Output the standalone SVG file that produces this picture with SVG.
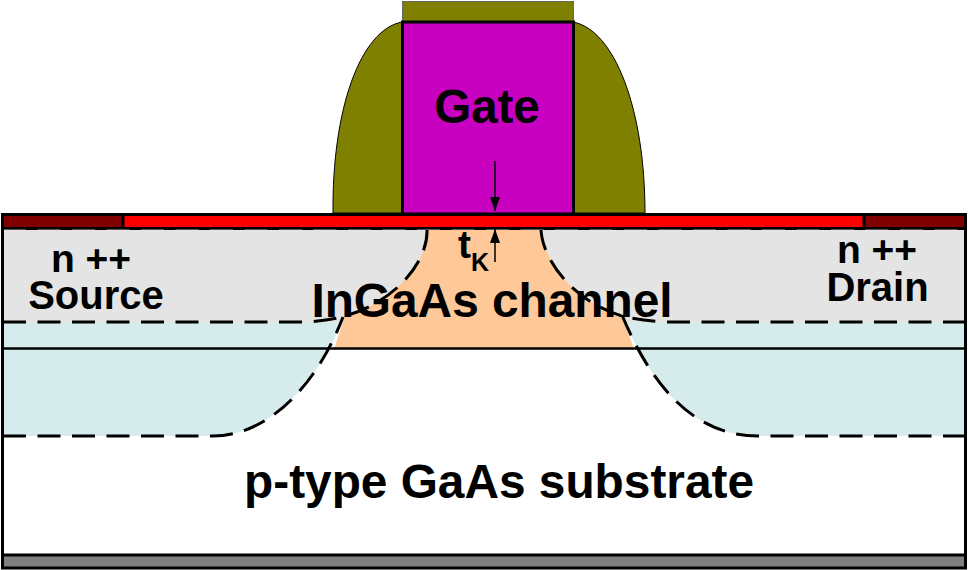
<svg xmlns="http://www.w3.org/2000/svg" width="968" height="570" viewBox="0 0 968 570">
<style>
.t{font-family:"Liberation Sans",Arial,sans-serif;font-weight:700;fill:#000;text-anchor:middle}
.d{fill:none;stroke:#000;stroke-width:3;stroke-dasharray:23 11.5}
.s{stroke:#000;stroke-width:3}
</style>
<defs>
<marker id="a" markerUnits="userSpaceOnUse" markerWidth="14" markerHeight="10" refX="14" refY="5" orient="auto"><path d="M0 0L14 5L0 10Z" fill="#000"/></marker>
</defs>
<rect width="968" height="570" fill="#fff"/>
<g id="source-drain-regions">
<path d="M3 229H966V322H3Z" fill="#e4e4e4"/>
<path d="M3 322H966V436H758C700 436 655 395 622 315H345C315 390 265 436 213 436H3Z" fill="#d6ebec"/>
</g>
<g id="channel">
<path d="M428 228H541C543 262 575 302 622 316L634 349H334L345 316C395 302 428 262 428 228Z" fill="#fec899"/>
</g>
<g id="spacers">
<path d="M402 22C360 30 332 110 333 213H402Z" fill="#808000" stroke="#000" stroke-width="1"/>
<path d="M573 22C615 30 645 110 645 213H573Z" fill="#808000" stroke="#000" stroke-width="1"/>
<rect x="402.500" y="1.500" width="171" height="20.500" fill="#808000" stroke="#666" stroke-width="1"/>
</g>
<g id="gate">
<rect x="402.500" y="22" width="171" height="192" fill="#c800c0" class="s"/>
<text class="t" x="487" y="123" font-size="47.500">Gate</text>
</g>
<g id="dielectric">
<rect x="2.500" y="214.500" width="963" height="14" fill="#fe0000" class="s"/>
<rect x="2.500" y="214.500" width="120.500" height="14" fill="#7f0000" class="s"/>
<rect x="864" y="214.500" width="101.500" height="14" fill="#7f0000" class="s"/>
</g>
<g id="labels">
<text class="t" font-size="39"><tspan x="91" y="272">n ++</tspan><tspan x="96" y="309" font-size="40">Source</tspan></text>
<text class="t" font-size="39"><tspan x="877" y="263">n ++</tspan><tspan x="877.500" y="301" font-size="40">Drain</tspan></text>
<text class="t" x="492" y="317" font-size="47.800">InGaAs channel</text>
<text class="t" x="499" y="498" font-size="47.800">p-type GaAs substrate</text>
<text class="t" x="458" y="258" font-size="39" style="text-anchor:start">t<tspan dy="13" font-size="25">K</tspan></text>
</g>
<g id="connectors">
<path class="d" d="M3 322H305C325 321 340 318 345 316C395 302 428 262 427 230"/>
<path class="d" d="M966 322H665C645 321 630 318 622 316C575 302 543 262 541 230"/>
<path class="d" d="M3 436H213C265 436 315 390 343 317"/>
<path class="d" d="M966 436H758C700 436 655 395 622 315"/>
<path d="M3 229.500H966" fill="none" stroke="#555" stroke-width="1" stroke-dasharray="23 11.500"/>
<path d="M3 348.500H966" fill="none" stroke="#000" stroke-width="2.500"/>
<path d="M495 161V211" stroke="#000" stroke-width="1.500" marker-end="url(#a)"/>
<path d="M495 262V229" stroke="#000" stroke-width="1.500" marker-end="url(#a)"/>
</g>
<g id="substrate">
<path d="M2.500 214V568" class="s" fill="none"/>
<path d="M965.500 214V568" class="s" fill="none"/>
<rect x="2.500" y="555" width="963" height="13" fill="#808080" stroke="#000" stroke-width="3"/>
</g>
</svg>
